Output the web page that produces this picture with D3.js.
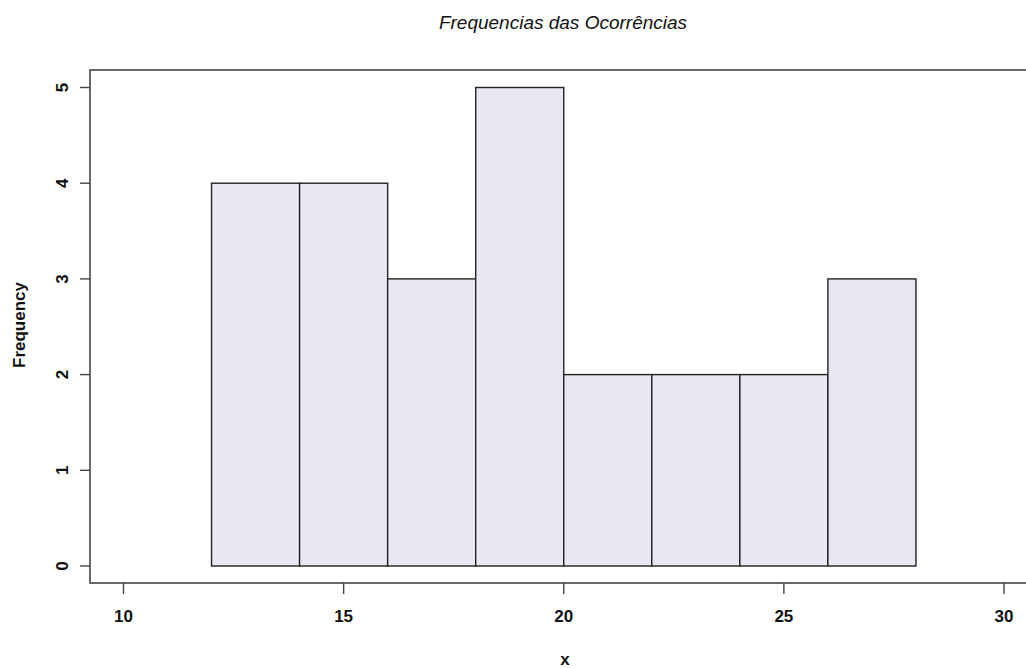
<!DOCTYPE html>
<html>
<head>
<meta charset="utf-8">
<script src="https://cdn.jsdelivr.net/npm/d3@7"></script>
<style>
  body { margin: 0; background: #fff; }
  text { font-family: "Liberation Sans", Arial, sans-serif; fill: #111; }
</style>
</head>
<body>
<svg id="chart" width="1026" height="668"></svg>
<script>
// histogram bins (lower edge, upper edge) and counts
var bin_lo = [12, 14, 16, 18, 20, 22, 24, 26];
var bin_hi = [14, 16, 18, 20, 22, 24, 26, 28];
var counts = [4, 4, 3, 5, 2, 2, 2, 3];
var x_ticks = [10, 15, 20, 25, 30];
var y_ticks = [0, 1, 2, 3, 4, 5];

var svg = d3.select('#chart');

var x_scale = d3.scaleLinear().domain([10, 30]).range([123.5, 1004]);
var y_scale = d3.scaleLinear().domain([0, 5]).range([566, 87.5]);

// plot box
var box = {left: 90, top: 70, right: 1030, bottom: 583};
svg.append('rect')
  .attr('x', box.left)
  .attr('y', box.top)
  .attr('width', box.right - box.left)
  .attr('height', box.bottom - box.top)
  .attr('fill', 'none')
  .attr('stroke', '#444')
  .attr('stroke-width', 1.6);

// bars
svg.selectAll('.bar')
  .data(counts)
  .enter()
  .append('rect')
  .classed('bar', true)
  .attr('x', function(d, i){ return x_scale(bin_lo[i]); })
  .attr('y', function(d){ return y_scale(d); })
  .attr('width', function(d, i){ return x_scale(bin_hi[i]) - x_scale(bin_lo[i]); })
  .attr('height', function(d){ return y_scale(0) - y_scale(d); })
  .attr('fill', '#e9e8f2')
  .attr('stroke', '#222')
  .attr('stroke-width', 1.4);

// x axis ticks and labels
var x_g = svg.append('g');
x_g.selectAll('line')
  .data(x_ticks)
  .enter()
  .append('line')
  .attr('x1', function(d){ return x_scale(d); })
  .attr('x2', function(d){ return x_scale(d); })
  .attr('y1', box.bottom)
  .attr('y2', box.bottom + 11)
  .attr('stroke', '#444')
  .attr('stroke-width', 1.4);
x_g.selectAll('text')
  .data(x_ticks)
  .enter()
  .append('text')
  .attr('x', function(d){ return x_scale(d); })
  .attr('y', 622)
  .attr('text-anchor', 'middle')
  .attr('font-size', 17)
  .attr('font-weight', 'bold')
  .text(function(d){ return d; });

// y axis ticks and labels (rotated, R style)
var y_g = svg.append('g');
y_g.selectAll('line')
  .data(y_ticks)
  .enter()
  .append('line')
  .attr('x1', box.left - 10)
  .attr('x2', box.left)
  .attr('y1', function(d){ return y_scale(d); })
  .attr('y2', function(d){ return y_scale(d); })
  .attr('stroke', '#444')
  .attr('stroke-width', 1.4);
y_g.selectAll('text')
  .data(y_ticks)
  .enter()
  .append('text')
  .attr('transform', function(d){
    return 'translate(68,' + y_scale(d) + ') rotate(-90)';
  })
  .attr('text-anchor', 'middle')
  .attr('font-size', 17)
  .attr('font-weight', 'bold')
  .text(function(d){ return d; });

// title and axis labels
svg.append('text')
  .attr('x', 563)
  .attr('y', 29)
  .attr('text-anchor', 'middle')
  .attr('font-size', 19)
  .attr('font-style', 'italic')
  .text('Frequencias das Ocorrências');

svg.append('text')
  .attr('x', 565)
  .attr('y', 665)
  .attr('text-anchor', 'middle')
  .attr('font-size', 17)
  .attr('font-weight', 'bold')
  .text('x');

svg.append('text')
  .attr('transform', 'translate(25,' + 325 + ') rotate(-90)')
  .attr('text-anchor', 'middle')
  .attr('font-size', 17)
  .attr('font-weight', 'bold')
  .text('Frequency');
</script>
</body>
</html>
